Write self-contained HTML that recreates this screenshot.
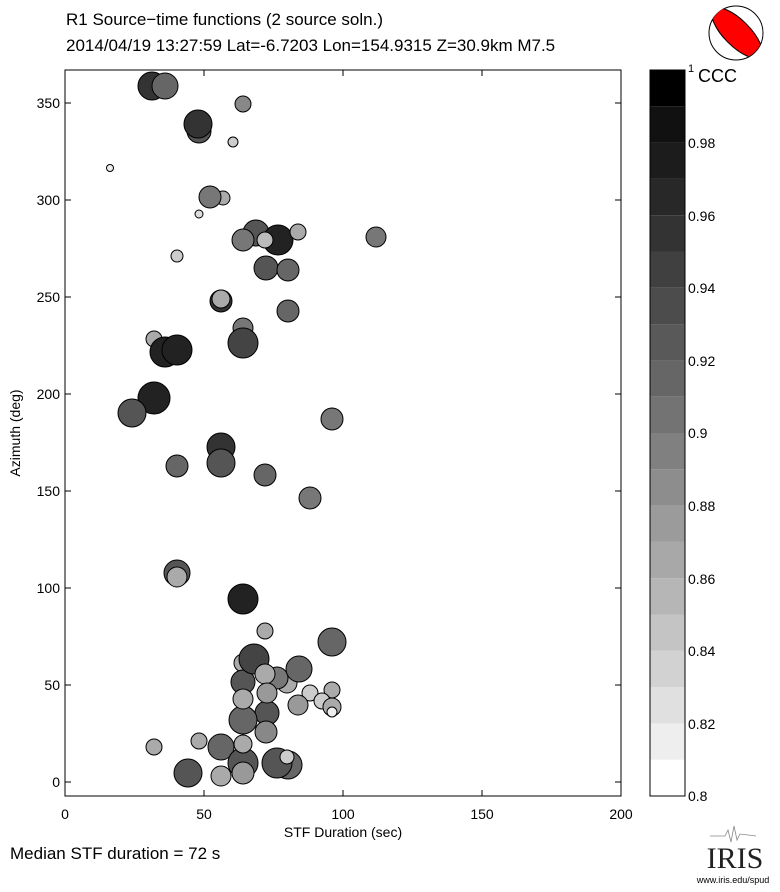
<!DOCTYPE html>
<html><head><meta charset="utf-8"><style>body{margin:0;background:#fff}</style></head><body>
<svg width="780" height="887" viewBox="0 0 780 887" xmlns="http://www.w3.org/2000/svg" font-family="Liberation Sans, Arial, sans-serif">
<rect width="780" height="887" fill="#fff"/>
<text x="66" y="25" font-size="17">R1 Source−time functions (2 source soln.)</text>
<text x="66" y="51" font-size="17">2014/04/19 13:27:59  Lat=-6.7203 Lon=154.9315  Z=30.9km  M7.5</text>
<defs><clipPath id="bb"><circle cx="736" cy="33" r="27"/></clipPath></defs>
<circle cx="736" cy="33" r="27" fill="#fff" stroke="#000" stroke-width="1"/>
<ellipse cx="737" cy="33" rx="33" ry="13" transform="rotate(45 737 33)" fill="#f00" stroke="#000" clip-path="url(#bb)"/>
<rect x="65" y="70" width="556" height="726" fill="#fff" stroke="#000"/>
<g stroke="#000" stroke-width="1">
<line x1="65" y1="782" x2="71" y2="782"/><line x1="65" y1="685" x2="71" y2="685"/><line x1="65" y1="588" x2="71" y2="588"/><line x1="65" y1="491" x2="71" y2="491"/><line x1="65" y1="394" x2="71" y2="394"/><line x1="65" y1="297" x2="71" y2="297"/><line x1="65" y1="200" x2="71" y2="200"/><line x1="65" y1="103" x2="71" y2="103"/>
<line x1="621" y1="782" x2="615" y2="782"/><line x1="621" y1="685" x2="615" y2="685"/><line x1="621" y1="588" x2="615" y2="588"/><line x1="621" y1="491" x2="615" y2="491"/><line x1="621" y1="394" x2="615" y2="394"/><line x1="621" y1="297" x2="615" y2="297"/><line x1="621" y1="200" x2="615" y2="200"/><line x1="621" y1="103" x2="615" y2="103"/>
<line x1="204" y1="796" x2="204" y2="790"/><line x1="343" y1="796" x2="343" y2="790"/><line x1="482" y1="796" x2="482" y2="790"/>
<line x1="204" y1="70" x2="204" y2="76"/><line x1="343" y1="70" x2="343" y2="76"/><line x1="482" y1="70" x2="482" y2="76"/>
</g>
<g font-size="14" text-anchor="end">
<text x="60" y="787">0</text><text x="60" y="690">50</text><text x="60" y="593">100</text><text x="60" y="496">150</text><text x="60" y="399">200</text><text x="60" y="302">250</text><text x="60" y="205">300</text><text x="60" y="108">350</text>
</g>
<g font-size="14" text-anchor="middle">
<text x="65" y="819">0</text><text x="204" y="819">50</text><text x="343" y="819">100</text><text x="482" y="819">150</text><text x="621" y="819">200</text>
<text x="343" y="837">STF Duration (sec)</text>
</g>
<text transform="translate(20 433) rotate(-90)" font-size="14" text-anchor="middle">Azimuth (deg)</text>
<text x="10" y="859" font-size="17">Median STF duration = 72 s</text>
<g stroke="#000" stroke-width="1">
<circle cx="152" cy="86" r="14" fill="#333"/><circle cx="165" cy="86" r="13" fill="#666"/>
<circle cx="243" cy="104" r="8" fill="#888"/>
<circle cx="199" cy="131" r="12" fill="#555"/><circle cx="198" cy="124" r="14" fill="#333"/>
<circle cx="233" cy="142" r="5" fill="#ccc"/>
<circle cx="110" cy="168" r="3.5" fill="#eee"/>
<circle cx="223" cy="198" r="7" fill="#aaa"/><circle cx="210" cy="197" r="11" fill="#777"/>
<circle cx="199" cy="214" r="4" fill="#ddd"/>
<circle cx="256" cy="233" r="13" fill="#555"/><circle cx="243" cy="240" r="11" fill="#777"/><circle cx="278" cy="240" r="15" fill="#222"/><circle cx="265" cy="240" r="8" fill="#bbb"/><circle cx="298" cy="232" r="8" fill="#aaa"/><circle cx="376" cy="237" r="10" fill="#777"/>
<circle cx="177" cy="256" r="6" fill="#ccc"/>
<circle cx="266" cy="268" r="12" fill="#555"/><circle cx="288" cy="270" r="11" fill="#666"/>
<circle cx="221" cy="301" r="11" fill="#333"/><circle cx="221" cy="299" r="9" fill="#aaa"/>
<circle cx="288" cy="311" r="11" fill="#666"/>
<circle cx="243" cy="328" r="10" fill="#777"/>
<circle cx="154" cy="339" r="8" fill="#aaa"/>
<circle cx="165" cy="352" r="15" fill="#222"/><circle cx="177" cy="350" r="15" fill="#222"/>
<circle cx="243" cy="343" r="15" fill="#444"/>
<circle cx="154" cy="398" r="16" fill="#222"/>
<circle cx="132" cy="413" r="14" fill="#555"/>
<circle cx="332" cy="419" r="11" fill="#777"/>
<circle cx="221" cy="447" r="14" fill="#333"/><circle cx="221" cy="463" r="14" fill="#555"/>
<circle cx="177" cy="466" r="11" fill="#666"/>
<circle cx="265" cy="475" r="11" fill="#666"/>
<circle cx="310" cy="498" r="11" fill="#777"/>
<circle cx="177" cy="573" r="13" fill="#555"/><circle cx="177" cy="577" r="10" fill="#aaa"/>
<circle cx="243" cy="599" r="15" fill="#222"/>
<circle cx="265" cy="631" r="8" fill="#aaa"/>
<circle cx="332" cy="642" r="14" fill="#666"/>
<circle cx="243" cy="663" r="9" fill="#aaa"/>
<circle cx="243" cy="682" r="12" fill="#555"/>
<circle cx="254" cy="659" r="15" fill="#444"/>
<circle cx="287" cy="683" r="10" fill="#aaa"/>
<circle cx="277" cy="678" r="11" fill="#777"/>
<circle cx="299" cy="669" r="13" fill="#666"/>
<circle cx="265" cy="674" r="10" fill="#aaa"/>
<circle cx="310" cy="693" r="8" fill="#ccc"/>
<circle cx="332" cy="690" r="8" fill="#aaa"/>
<circle cx="322" cy="701" r="8" fill="#ccc"/>
<circle cx="298" cy="705" r="10" fill="#999"/>
<circle cx="332" cy="707" r="9" fill="#aaa"/><circle cx="332" cy="712" r="5" fill="#eee"/>
<circle cx="267" cy="713" r="12" fill="#555"/>
<circle cx="243" cy="720" r="14" fill="#666"/>
<circle cx="267" cy="693" r="10" fill="#999"/>
<circle cx="243" cy="699" r="10" fill="#aaa"/>
<circle cx="266" cy="732" r="11" fill="#888"/>
<circle cx="154" cy="747" r="8" fill="#aaa"/>
<circle cx="199" cy="741" r="8" fill="#aaa"/>
<circle cx="221" cy="747" r="13" fill="#666"/>
<circle cx="243" cy="763" r="15" fill="#555"/>
<circle cx="243" cy="744" r="9" fill="#aaa"/>
<circle cx="188" cy="773" r="14" fill="#555"/>
<circle cx="221" cy="776" r="10" fill="#aaa"/>
<circle cx="243" cy="773" r="11" fill="#999"/>
<circle cx="288" cy="765" r="14" fill="#666"/>
<circle cx="277" cy="763" r="15" fill="#555"/>
<circle cx="287" cy="757" r="7" fill="#ccc"/>
</g>
<g>
<rect x="650" y="759.7" width="35" height="36.3" fill="#fff"/>
<rect x="650" y="723.4" width="35" height="36.3" fill="#eee"/>
<rect x="650" y="687.1" width="35" height="36.3" fill="#e0e0e0"/>
<rect x="650" y="650.8" width="35" height="36.3" fill="#d2d2d2"/>
<rect x="650" y="614.5" width="35" height="36.3" fill="#c4c4c4"/>
<rect x="650" y="578.2" width="35" height="36.3" fill="#b6b6b6"/>
<rect x="650" y="541.9" width="35" height="36.3" fill="#a8a8a8"/>
<rect x="650" y="505.6" width="35" height="36.3" fill="#9b9b9b"/>
<rect x="650" y="469.3" width="35" height="36.3" fill="#8d8d8d"/>
<rect x="650" y="433" width="35" height="36.3" fill="#808080"/>
<rect x="650" y="396.7" width="35" height="36.3" fill="#737373"/>
<rect x="650" y="360.4" width="35" height="36.3" fill="#666"/>
<rect x="650" y="324.1" width="35" height="36.3" fill="#595959"/>
<rect x="650" y="287.8" width="35" height="36.3" fill="#4c4c4c"/>
<rect x="650" y="251.5" width="35" height="36.3" fill="#404040"/>
<rect x="650" y="215.2" width="35" height="36.3" fill="#333"/>
<rect x="650" y="178.9" width="35" height="36.3" fill="#282828"/>
<rect x="650" y="142.6" width="35" height="36.3" fill="#1c1c1c"/>
<rect x="650" y="106.3" width="35" height="36.3" fill="#111"/>
<rect x="650" y="70" width="35" height="36.3" fill="#000"/>
<rect x="650" y="70" width="35" height="726" fill="none" stroke="#000"/>
</g>
<g font-size="14">
<text x="688" y="801">0.8</text><text x="688" y="729">0.82</text><text x="688" y="656">0.84</text><text x="688" y="584">0.86</text><text x="688" y="511">0.88</text><text x="688" y="438">0.9</text><text x="688" y="366">0.92</text><text x="688" y="293">0.94</text><text x="688" y="221">0.96</text><text x="688" y="148">0.98</text><text x="688" y="72" font-size="11">1</text>
<text x="698" y="82" font-size="18">CCC</text>
</g>
<text x="735" y="868" font-size="30" font-family="Liberation Serif, serif" text-anchor="middle" fill="#222">IRIS</text>
<text x="733" y="883" font-size="9" text-anchor="middle">www.iris.edu/spud</text>
<path d="M710 836 L725 836 L728 830 L731 842 L734 826 L737 840 L740 834 L756 836" fill="none" stroke="#888" stroke-width="0.8"/>
</svg>
</body></html>
